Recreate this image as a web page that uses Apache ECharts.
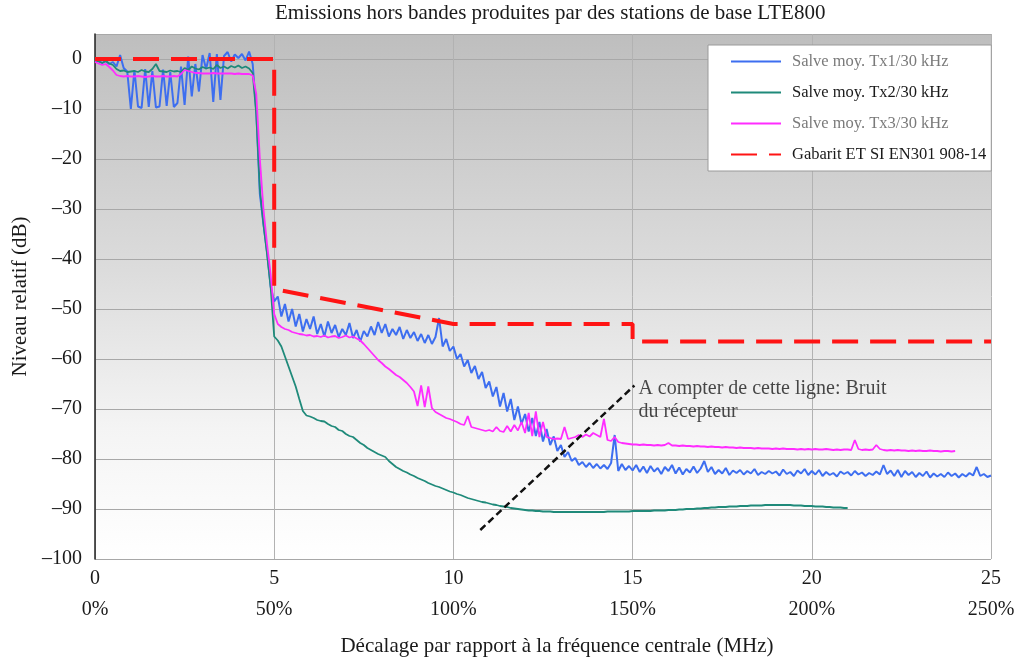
<!DOCTYPE html>
<html>
<head>
<meta charset="utf-8">
<script src="https://cdn.jsdelivr.net/npm/echarts@6/dist/echarts.min.js"></script>
<style>
  html, body { margin: 0; padding: 0; background: #fff; }
  #chart { width: 1020px; height: 662px; }
</style>
</head>
<body>
<div id="chart"></div>
<script>
// Frequency sampling step of the measured traces (MHz)
const stepMHz = 0.1;

// Tx1 average burst, 30 kHz RBW, 0 .. 25 MHz (dB relative)
const tx1 = [
  -0.5, -0.3, -0.8, -0.4, -1.0, -0.6, -1.5, 0.8, -1.8, -2.5,
  -10, -2.2, -9.5, -9.8, -2.0, -9.6, -2.4, -9.7, -9.5, -2.1,
  -9.4, -2.6, -9.6, -8.8, -1.5, -9.2, 0.5, -7.5, -1.0, -6.5,
  0.8, -2.0, 1.2, -8.6, 1.0, -8.2, 0.6, 1.4, -0.5, 0.9,
  0.2, 1.0, -0.3, 1.5, -1.0, -10.5, -27, -33, -38.5, -45.5,
  -48.5, -47.5, -51.5, -49, -52.5, -50, -53.5, -51, -54.5, -52,
  -54, -51.5, -55, -53, -55.5, -52.5, -54.8, -53.2, -55.6, -54,
  -55.2, -52.8, -55.8, -54.2, -56.5, -54.4, -55.5, -53.5, -55.2, -52.6,
  -54.8, -53, -55.5, -54, -55.2, -53.6, -56, -54.2, -55.8, -54.6,
  -56.4, -55, -56.8, -55.2, -57, -55.6, -51.8, -57.5, -56, -58.4,
  -57.5, -60, -59, -61.5, -60.2, -62.8, -61.4, -64, -62.6, -65.8,
  -64.5, -67.5, -65.6, -69.5, -66.8, -70.5, -68, -72.2, -69.5, -73,
  -71, -74.5, -71.8, -75.4, -72.6, -76.5, -74, -77.2, -75.5, -78.4,
  -77.2, -79.6, -78.6, -80.4, -79.8, -81.2, -80.6, -81.6, -80.8, -81.8,
  -81, -81.9, -81.2, -82, -80.8, -75.2, -82.4, -81, -82.2, -81.4,
  -82.3, -81.2, -82.6, -81.5, -82.8, -81.4, -82.5, -81.8, -83, -81.6,
  -82.4, -81.2, -82.9, -81.7, -83.1, -82, -82.7, -81.5, -82.8, -81.9,
  -80.4, -82.6, -81.6, -83, -82.2, -82.9, -81.8, -83.2, -82.3, -82.8,
  -82.2, -83.1, -82.4, -82.9, -82, -83.2, -82.6, -83, -82.4, -82.9,
  -82.5, -83.3, -82.1, -83, -82.6, -83.4, -82.3, -82.9, -82, -83.2,
  -82.4, -83.1, -82.2, -83.4, -82.6, -83.2, -82.8, -83.5, -82.5, -83,
  -82.6, -83.3, -82.4, -83.1, -82.7, -83.4, -82.8, -83.2, -82.5, -83.1,
  -81.2, -83, -82.3, -83.4, -82.2, -83.6, -82.4, -83.2, -82.6, -83.6,
  -82.8, -83.4, -82.5, -83.7, -82.9, -83.5, -83, -83.6, -82.7, -83.4,
  -82.9, -83.7, -83, -83.5, -82.8, -83.3, -81.6, -83.4, -83, -83.6,
  -83.3
];

// Tx2 average burst, 30 kHz RBW, 0 .. 21 MHz
const tx2 = [
  -0.2, -0.5, -0.8, -0.4, -0.9, -1.2, -2.0, -2.4, -2.3, -2.6,
  -2.5, -2.4, -2.6, -2.2, -2.5, -2.6, -2.0, -1.0, -2.4, -2.5,
  -2.6, -2.3, -2.5, -2.4, -2.6, -1.8, -2.2, -1.5, -1.9, -2.1,
  -1.6, -1.9, -1.7, -2.0, -1.2, -1.8, -1.5, -1.9, -1.4, -1.7,
  -1.3, -1.8, -1.5, -1.9, -2.8, -11, -26, -33, -39, -45.5,
  -55.5, -56.3, -57.5, -59.5, -61.5, -63.5, -65.5, -68, -70.4, -71.3,
  -71.5, -71.8, -72.2, -72.4, -72.5, -73, -73.4, -73.6, -74.2, -74.4,
  -75, -75.4, -75.6, -76.2, -76.8, -77.2, -77.8, -78.2, -78.6, -79,
  -79.3, -79.6, -80.4, -81, -81.6, -82, -82.4, -82.7, -83.1, -83.4,
  -83.8, -84.1, -84.4, -84.8, -85.1, -85.4, -85.6, -85.9, -86.2, -86.5,
  -86.7, -87, -87.2, -87.5, -87.8, -88, -88.2, -88.4, -88.6, -88.7,
  -88.9, -89.1, -89.2, -89.4, -89.5, -89.6, -89.8, -89.9, -90, -90.1,
  -90.2, -90.3, -90.3, -90.4, -90.4, -90.5, -90.5, -90.5, -90.6, -90.6,
  -90.6, -90.6, -90.6, -90.6, -90.6, -90.6, -90.6, -90.6, -90.6, -90.6,
  -90.6, -90.6, -90.6, -90.5, -90.5, -90.5, -90.5, -90.5, -90.5, -90.5,
  -90.4, -90.4, -90.4, -90.4, -90.4, -90.4, -90.3, -90.3, -90.3, -90.3,
  -90.2, -90.2, -90.2, -90.1, -90.1, -90.0, -90.0, -90.0, -89.9, -89.9,
  -89.8, -89.8, -89.7, -89.7, -89.6, -89.6, -89.6, -89.5, -89.5, -89.5,
  -89.4, -89.4, -89.4, -89.3, -89.3, -89.3, -89.3, -89.2, -89.2, -89.2,
  -89.2, -89.2, -89.2, -89.2, -89.2, -89.3, -89.3, -89.3, -89.4, -89.4,
  -89.4, -89.5, -89.5, -89.5, -89.6, -89.6, -89.7, -89.7, -89.7, -89.8,
  -89.8
];

// Tx3 average burst, 30 kHz RBW, 0 .. 24 MHz
const tx3 = [
  -0.6, -0.9, -1.2, -1.0, -1.6, -2.3, -3.2, -3.4, -3.5, -3.4,
  -3.5, -3.5, -3.4, -3.5, -3.6, -3.5, -3.4, -3.5, -3.5, -3.4,
  -3.5, -3.5, -3.4, -3.5, -3.0, -2.2, -2.4, -2.6, -2.8, -2.8,
  -2.9, -2.9, -2.9, -2.8, -2.9, -2.9, -2.9, -2.9, -2.9, -3.0,
  -2.9, -3.0, -3.0, -3.0, -3.3, -7, -20, -30, -37, -43,
  -51, -53, -53.6, -54, -54.2, -54.6, -54.8, -55, -55.1, -55.3,
  -55.2, -55.5, -55.4, -55.6, -55.3, -55.7, -55.5, -55.4, -55.8, -55.6,
  -55.3, -55.7, -55.5, -55.9, -56.3, -57, -57.8, -58.6, -59.4, -60.2,
  -60.8, -61.5, -62, -62.6, -63.2, -63.6, -64.2, -64.8, -65.6, -66.5,
  -69.4, -65.3, -69.6, -65.5, -69.8, -70.6, -71, -71.4, -71.8, -72,
  -72.3, -72.6, -73, -73.2, -71.4, -73.6, -73.8, -74, -74.2, -74.4,
  -74.2, -74.5, -73.6, -74.4, -74.6, -73.4, -74.5, -73.2, -74.3, -72.6,
  -74.8, -70.8, -75.4, -70.5, -75.6, -72.6, -75.6, -75.8, -76, -75.9,
  -76, -73.6, -76, -75.8, -75.6, -75.2, -75.6, -75.1, -75.5, -74.8,
  -75.2, -75.6, -72, -76.2, -76.4, -75.6, -76.6, -76.8, -76.9, -77,
  -77.1, -77.1, -77.2, -77.1, -77.2, -77.2, -77.3, -77.2, -77.3, -77.2,
  -76.8, -77.3, -77.3, -77.4, -77.3, -77.4, -77.4, -77.5, -77.4, -77.5,
  -77.5, -77.6, -77.5, -77.6, -77.6, -77.7, -77.6, -77.7, -77.7, -77.8,
  -77.7, -77.8, -77.8, -77.8, -77.9, -77.8, -77.9, -77.9, -77.9, -78,
  -77.9, -78, -77.9, -78, -78, -78, -78.1, -78, -78.1, -78,
  -78.1, -78, -78.1, -78.1, -78, -78.1, -78.2, -78.1, -78.2, -78.1,
  -78.1, -78.2, -76.2, -78, -78.2, -78.1, -78.2, -78.1, -77.2, -78,
  -78.2, -78.3, -78.2, -78.3, -78.2, -78.3, -78.3, -78.4, -78.3, -78.4,
  -78.3, -78.4, -78.4, -78.3, -78.4, -78.4, -78.5, -78.4, -78.4, -78.5,
  -78.4
];

// ETSI EN 301 908-14 emission mask corner points [MHz, dB]
const maskPoints = [[0, 0], [5, 0], [5, -46], [10, -53], [15, -53], [15, -56.5], [25, -56.5]];

// Receiver noise floor marker line and its caption anchor
const noiseLine = [[10.75, -94.2], [15.05, -65.3]];
const noteAnchor = [15.05, -65.3];
const noteText = 'A compter de cette ligne: Bruit\ndu récepteur';

// Axis ticks
const xTicksMHz = [0, 5, 10, 15, 20, 25];
const xTicksPct = ['0%', '50%', '100%', '150%', '200%', '250%'];

const seriesNames = ['Salve moy. Tx1/30 kHz', 'Salve moy. Tx2/30 kHz', 'Salve moy. Tx3/30 kHz', 'Gabarit ET SI EN301 908-14'];
const seriesColors = ['#3d6ef0', '#1f8a7a', '#ff2cff', '#ff1414'];
const legendTextColors = ['#7a7a7a', '#1a1a1a', '#7a7a7a', '#1a1a1a'];

const toPoints = ys => ys.map((y, i) => [Math.round(i * stepMHz * 10) / 10, y]);

const FONT = '"Liberation Serif", "DejaVu Serif", serif';
const INK = '#1a1a1a';

const chart = echarts.init(document.getElementById('chart'), null, { renderer: 'canvas' });

const lineSeries = (i, data, width, extra) => Object.assign({
  name: seriesNames[i],
  type: 'line',
  symbol: 'none',
  z: 3,
  data: data,
  lineStyle: { color: seriesColors[i], width: width },
  itemStyle: { color: seriesColors[i], opacity: 0 }
}, extra || {});

const option = {
  backgroundColor: '#ffffff',
  animation: false,
  textStyle: { fontFamily: FONT },
  graphic: [{
    type: 'text',
    left: 275,
    top: 3,
    style: {
      text: 'Emissions hors bandes produites par des stations de base LTE800',
      fontFamily: FONT,
      fontSize: 21,
      fill: INK
    }
  }],
  grid: {
    left: 95,
    right: 29,
    top: 34,
    bottom: 102,
    show: true,
    borderWidth: 0,
    backgroundColor: {
      type: 'linear', x: 0, y: 0, x2: 0, y2: 1,
      colorStops: [
        { offset: 0, color: '#bebebe' },
        { offset: 0.45, color: '#dcdcdc' },
        { offset: 0.75, color: '#f4f4f4' },
        { offset: 1, color: '#ffffff' }
      ]
    }
  },
  legend: {
    data: seriesNames.map((n, i) => ({ name: n, textStyle: { color: legendTextColors[i] } })),
    orient: 'vertical',
    left: 708,
    top: 45,
    itemWidth: 50,
    itemHeight: 14,
    itemGap: 14,
    padding: [8, 5, 8, 22],
    backgroundColor: '#ffffff',
    borderColor: '#9a9a9a',
    borderWidth: 1,
    itemStyle: { opacity: 0 },
    textStyle: { fontFamily: FONT, fontSize: 16.5, lineHeight: 16, padding: [0, 0, 0, 6] }
  },
  xAxis: {
    type: 'value',
    min: 0,
    max: 25,
    interval: 5,
    axisLine: { show: false },
    axisTick: { show: false },
    splitLine: { show: true, lineStyle: { color: '#b2b2b2', width: 1 } },
    axisLabel: {
      margin: 4,
      formatter: v => {
        const i = xTicksMHz.indexOf(v);
        return i < 0 ? '' : '{a|' + xTicksMHz[i] + '}\n{b|' + xTicksPct[i] + '}';
      },
      rich: {
        a: { fontFamily: FONT, fontSize: 20, lineHeight: 31, color: INK },
        b: { fontFamily: FONT, fontSize: 20, lineHeight: 31, color: INK }
      }
    },
    name: 'Décalage par rapport à la fréquence centrale (MHz)',
    nameLocation: 'middle',
    nameGap: 77,
    nameTextStyle: { fontFamily: FONT, fontSize: 21, color: INK, padding: [0, 0, 0, 28] }
  },
  yAxis: {
    type: 'value',
    min: -100,
    max: 5,
    interval: 10,
    axisLine: { show: true, lineStyle: { color: '#222', width: 1.5 } },
    axisTick: { show: false },
    splitLine: { show: true, lineStyle: { color: '#a8a8a8', width: 1 } },
    axisLabel: {
      margin: 13,
      fontFamily: FONT,
      fontSize: 20,
      color: INK,
      formatter: v => (v > 0 ? '' : String(v).replace('-', '\u2013'))
    },
    name: 'Niveau relatif (dB)',
    nameLocation: 'middle',
    nameGap: 62,
    nameTextStyle: { fontFamily: FONT, fontSize: 21, color: INK }
  },
  series: [
    lineSeries(0, toPoints(tx1), 2),
    lineSeries(1, toPoints(tx2), 1.8),
    lineSeries(2, toPoints(tx3), 1.8),
    lineSeries(3, maskPoints, 4, { z: 4, lineStyle: { color: seriesColors[3], width: 4, type: [26, 12] } }),
    {
      name: 'bruit', type: 'line', symbol: 'none', z: 5,
      data: noiseLine,
      lineStyle: { color: '#111', width: 2.5, type: [7, 4] },
      itemStyle: { color: '#111' }
    },
    {
      name: 'note', type: 'scatter', symbolSize: 0, z: 6,
      data: [noteAnchor],
      label: {
        show: true,
        position: 'right',
        distance: 4,
        offset: [0, 15],
        formatter: () => noteText,
        fontFamily: FONT,
        fontSize: 20,
        lineHeight: 23,
        color: INK
      }
    }
  ]
};

chart.setOption(option);
</script>
</body>
</html>
